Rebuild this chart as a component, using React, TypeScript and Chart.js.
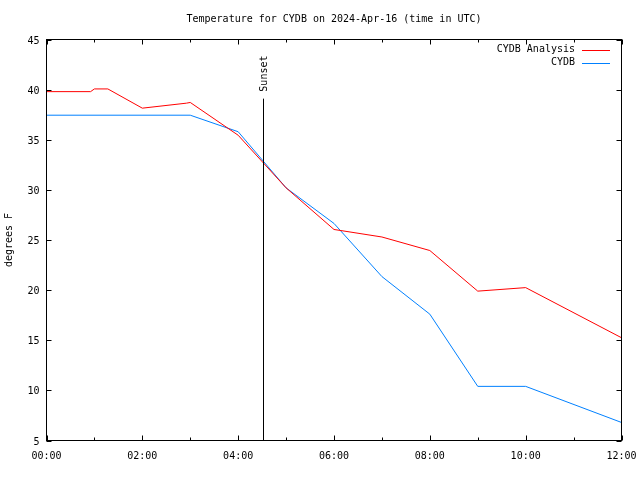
import React, { useEffect, useRef } from "react";
import { Chart, registerables } from "chart.js";

Chart.register(...registerables);

const TITLE = "Temperature for CYDB on 2024-Apr-16 (time in UTC)";
const Y_LABEL = "degrees F";

// times in hours after 00:00 UTC
const analysisTimes = [0, 0.92, 1.0, 1.28, 2.0, 2.92, 3.0, 4.0, 5.0, 6.0, 7.0, 8.0, 9.0, 10.0, 12.0];
const analysisTemps = [39.8, 39.8, 40.07, 40.07, 38.15, 38.65, 38.72, 35.45, 30.2, 26.05, 25.3, 23.95, 19.9, 20.25, 15.25];

const obsTimes = [0, 3.0, 4.0, 5.0, 6.0, 7.0, 8.0, 9.0, 10.0, 12.0];
const obsTemps = [37.45, 37.45, 35.8, 30.2, 26.65, 21.35, 17.6, 10.4, 10.4, 6.8];

const seriesNames = ["CYDB Analysis", "CYDB"];
const seriesColors = ["#ff0000", "#0080ff"];

const SUNSET_HOUR = 4.52;
const SUNSET_TOP = 39.1;

const FONT = "DejaVu Sans Mono";

function hhmm(v: number) {
  const h = Math.floor(v);
  return (h < 10 ? "0" : "") + h + ":00";
}

const decorPlugin = {
  id: "gnuplotDecor",
  afterDatasetsDraw(chart: any) {
    const { ctx, chartArea: a, scales } = chart;
    const xs = scales.x;
    const ys = scales.y;
    ctx.save();
    ctx.strokeStyle = "#000";
    ctx.lineWidth = 1;

    // sunset line
    const sx = Math.round(xs.getPixelForValue(SUNSET_HOUR)) + 0.5;
    const sTop = ys.getPixelForValue(SUNSET_TOP);
    ctx.beginPath();
    ctx.moveTo(sx, sTop);
    ctx.lineTo(sx, a.bottom);
    ctx.stroke();
    ctx.fillStyle = "#000";
    ctx.font = `10px "${FONT}"`;
    ctx.save();
    ctx.translate(sx + 1, sTop - 7);
    ctx.rotate(-Math.PI / 2);
    ctx.textAlign = "left";
    ctx.textBaseline = "middle";
    ctx.fillText("Sunset", 0, 0);
    ctx.restore();

    // border
    ctx.strokeRect(a.left, a.top, a.right - a.left, a.bottom - a.top);

    // x ticks (inward), majors every 2 h, minors every hour
    ctx.beginPath();
    for (let h = 0; h <= 12; h++) {
      const px = Math.round(xs.getPixelForValue(h)) + 0.5;
      const len = h % 2 === 0 ? 5 : 3;
      ctx.moveTo(px, a.bottom);
      ctx.lineTo(px, a.bottom - len);
      ctx.moveTo(px, a.top);
      ctx.lineTo(px, a.top + len);
    }
    for (let v = 5; v <= 45; v += 5) {
      const py = Math.round(ys.getPixelForValue(v)) + 0.5;
      ctx.moveTo(a.left, py);
      ctx.lineTo(a.left + 5, py);
      ctx.moveTo(a.right, py);
      ctx.lineTo(a.right - 5, py);
    }
    ctx.stroke();

    // title
    ctx.textAlign = "center";
    ctx.textBaseline = "middle";
    ctx.fillText(TITLE, (a.left + a.right) / 2, 19.5);

    // y label
    ctx.save();
    ctx.translate(9, (a.top + a.bottom) / 2);
    ctx.rotate(-Math.PI / 2);
    ctx.fillText(Y_LABEL, 0, 0);
    ctx.restore();

    // legend
    ctx.textAlign = "right";
    for (let i = 0; i < seriesNames.length; i++) {
      const ly = 49.5 + i * 13.3;
      ctx.fillStyle = "#000";
      ctx.fillText(seriesNames[i], 575, ly);
      ctx.strokeStyle = seriesColors[i];
      ctx.beginPath();
      ctx.moveTo(582, Math.round(ly) + 0.5);
      ctx.lineTo(610, Math.round(ly) + 0.5);
      ctx.stroke();
    }
    ctx.restore();
  },
};

export default function App() {
  const ref = useRef<HTMLCanvasElement | null>(null);
  useEffect(() => {
    if (!ref.current) return;
    const mk = (t: number[], v: number[]) => t.map((x, i) => ({ x, y: v[i] }));
    const chart = new Chart(ref.current, {
      type: "line",
      data: {
        datasets: [
          {
            label: seriesNames[0],
            data: mk(analysisTimes, analysisTemps),
            borderColor: seriesColors[0],
            borderWidth: 1,
            pointRadius: 0,
            tension: 0,
          },
          {
            label: seriesNames[1],
            data: mk(obsTimes, obsTemps),
            borderColor: seriesColors[1],
            borderWidth: 1,
            pointRadius: 0,
            tension: 0,
          },
        ],
      },
      options: {
        responsive: false,
        animation: false,
        events: [],
        layout: { padding: { top: 39.5, right: 18.5, left: 0, bottom: 0 } },
        plugins: {
          legend: { display: false },
          title: { display: false },
          tooltip: { enabled: false },
        },
        scales: {
          x: {
            type: "linear",
            min: 0,
            max: 12,
            afterFit: (s: any) => {
              s.height = 39.5;
              s.paddingLeft = 0;
              s.paddingRight = 0;
            },
            grid: { display: false, drawTicks: false },
            border: { display: false },
            ticks: {
              stepSize: 2,
              padding: 10,
              color: "#000",
              font: { family: FONT, size: 10 },
              maxRotation: 0,
              callback: (v: any) => hhmm(Number(v)),
            },
          },
          y: {
            min: 5,
            max: 45,
            afterFit: (s: any) => {
              s.width = 46.5;
              s.paddingTop = 0;
              s.paddingBottom = 0;
            },
            grid: { display: false, drawTicks: false },
            border: { display: false },
            ticks: {
              stepSize: 5,
              padding: 7,
              labelOffset: 1.5,
              color: "#000",
              font: { family: FONT, size: 10 },
            },
          },
        },
      },
      plugins: [decorPlugin],
    });
    return () => chart.destroy();
  }, []);
  return (
    <div style={{ position: "fixed", left: 0, top: 0, width: 640, height: 480, background: "#fff" }}>
      <canvas ref={ref} width={640} height={480} />
    </div>
  );
}
